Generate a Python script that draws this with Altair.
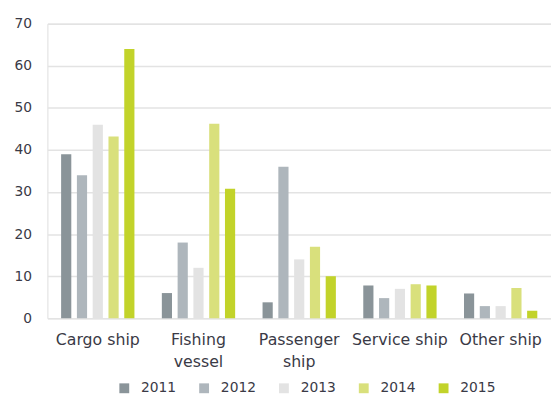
import altair as alt
import pandas as pd

categories = ["Cargo ship", "Fishing vessel", "Passenger ship", "Service ship", "Other ship"]
years = ["2011", "2012", "2013", "2014", "2015"]
colors = ["#8a9499", "#aeb6bc", "#e3e3e3", "#d9e07c", "#c2d32a"]

cargo = [39, 34, 46, 43.2, 64]
fishing = [6, 18, 12, 46.2, 30.8]
passenger = [3.8, 36, 14, 17, 10]
service = [7.8, 4.8, 7, 8.1, 7.8]
other = [5.9, 2.9, 2.9, 7.2, 1.8]

series = [cargo, fishing, passenger, service, other]
rows = []
for cat, vals in zip(categories, series):
    for yr, v in zip(years, vals):
        rows.append({"category": cat, "year": yr, "value": v})
df = pd.DataFrame(rows)

text_color = "#3a3a46"
font = "DejaVu Sans"

label_expr = ("datum.value == 'Fishing vessel' ? ['Fishing', 'vessel'] : "
              "datum.value == 'Passenger ship' ? ['Passenger', 'ship'] : datum.value")

chart = alt.Chart(df).mark_bar().encode(
    x=alt.X("category:N", sort=categories, title=None,
            scale=alt.Scale(paddingInner=0, paddingOuter=0),
            axis=alt.Axis(labelAngle=0, ticks=False, tickSize=0, domain=False, grid=False,
                          labelFontSize=16, labelColor=text_color, labelFont=font,
                          labelPadding=14, labelLineHeight=22, labelExpr=label_expr,
                          labelLimit=0)),
    xOffset=alt.XOffset("year:N", sort=years,
                        scale=alt.Scale(paddingInner=0.355, paddingOuter=0.868)),
    y=alt.Y("value:Q", title=None,
            scale=alt.Scale(domain=[0, 70], nice=False),
            axis=alt.Axis(values=[0, 10, 20, 30, 40, 50, 60, 70], ticks=False, tickSize=0,
                          domain=False, grid=True, gridColor="#e3e3e3", gridWidth=1.5,
                          labelFontSize=14, labelColor=text_color, labelFont=font,
                          labelPadding=16)),
    color=alt.Color("year:N", sort=years, title=None,
                    scale=alt.Scale(domain=years, range=colors),
                    legend=alt.Legend(orient="none", direction="horizontal",
                                      legendX=71, legendY=363, padding=0,
                                      symbolType="square", symbolSize=100,
                                      symbolStrokeWidth=0, labelOffset=10,
                                      columnPadding=21, labelFontSize=14,
                                      labelColor=text_color, labelFont=font)),
).properties(
    width=511,
    height=299,
    autosize=alt.AutoSizeParams(type="none"),
    padding={"left": 40, "top": 13, "right": 0, "bottom": 80},
).configure_view(stroke=None).configure(background="white")

chart.save("out.html", embed_options={"renderer": "svg", "actions": False})
